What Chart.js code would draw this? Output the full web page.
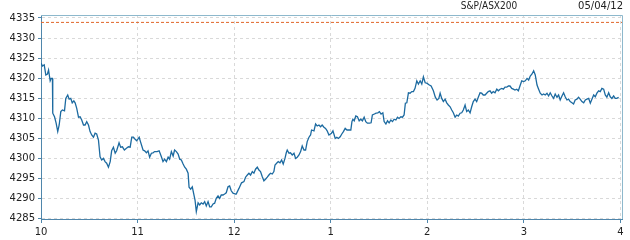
<!DOCTYPE html>
<html>
<head>
<meta charset="utf-8">
<script src="https://cdn.jsdelivr.net/npm/chart.js@4/dist/chart.umd.min.js"></script>
<style>
  html, body { margin: 0; padding: 0; background: #fff; }
  #lineChart { display: block; }
</style>
</head>
<body>
<canvas id="lineChart" width="630" height="240"></canvas>
<script>
// S&P/ASX200 intraday, minutes after 10:00
const indexName = 'S&P/ASX200';
const tradeDate = '05/04/12';
const prevClose = 4333.9;

const hourLabels = ['10', '11', '12', '1', '2', '3', '4'];
const yTicks = [4285, 4290, 4295, 4300, 4305, 4310, 4315, 4320, 4325, 4330, 4335];

const minutes = [
  0.1, 0.9, 2.0, 3.0, 4.0, 4.7, 5.7, 6.3, 7.1, 7.3, 8.4, 9.4, 10.4, 11.3, 12.3, 13.3, 14.6, 15.4, 16.6, 17.5,
  18.5, 19.4, 20.4, 21.2, 22.2, 23.3, 24.3, 25.3, 26.4, 27.4, 28.4, 29.5, 30.5, 31.5, 32.6, 33.6, 34.6, 35.7, 36.7, 37.7,
  38.8, 39.8, 40.8, 41.9, 43.0, 43.9, 45.0, 46.1, 47.0, 48.5, 49.5, 50.6, 51.8, 52.9, 54.3, 55.4, 56.4, 57.4, 58.5, 59.5,
  61.0, 61.8, 63.4, 64.4, 65.5, 66.5, 67.5, 68.6, 69.6, 70.6, 72.1, 73.4, 74.8, 75.8, 76.8, 77.9, 79.0, 79.9, 81.0, 82.1,
  83.0, 84.1, 85.2, 86.2, 87.2, 88.3, 89.3, 90.3, 91.4, 92.0, 93.0, 94.0, 94.8, 95.7, 96.5, 97.6, 98.6, 99.6, 100.7, 101.7,
  102.7, 103.8, 104.8, 105.8, 106.9, 107.9, 108.9, 110.0, 111.0, 112.0, 113.1, 114.1, 115.1, 116.2, 117.2, 118.2, 119.3, 120.9,
  121.3, 123.0, 124.6, 126.1, 127.1, 128.2, 129.2, 130.2, 131.3, 132.3, 133.3, 134.4, 135.4, 136.4, 137.5, 138.5, 139.5, 140.6,
  141.6, 142.6, 143.7, 144.7, 145.4, 146.4, 147.4, 148.5, 149.5, 150.5, 151.6, 152.4, 153.0, 154.1, 155.0, 156.1, 157.2, 158.2,
  159.2, 160.3, 161.3, 162.3, 163.4, 164.4, 165.4, 166.5, 167.5, 168.1, 169.6, 170.6, 171.6, 172.7, 173.7, 174.7, 175.8, 176.8,
  177.8, 178.9, 180.5,
  181.4, 182.8, 183.8, 184.8, 185.9, 186.9, 187.9, 189.0, 190.1, 191.0, 192.5, 193.2, 193.8, 194.6, 195.6, 196.6, 197.7, 198.7,
  199.7, 200.8, 201.8, 202.8, 204.1, 205.1, 205.9, 207.2, 208.2, 209.3, 210.3, 211.3, 212.4, 213.2, 214.3, 215.3, 216.3, 217.4,
  218.4, 219.4, 220.5, 221.5, 222.5, 223.6, 224.6, 225.6, 226.4, 227.3, 228.3, 229.3, 230.4, 231.4, 232.4, 233.5, 234.5, 235.6,
  236.6, 237.6, 238.7, 239.7, 241.3,
  242.4, 243.8, 245.0, 246.1, 247.2, 248.0, 249.0, 250.0, 251.1, 252.1, 253.1, 254.2, 255.2, 256.2, 257.3, 258.3, 259.3, 260.4,
  261.4, 262.4, 263.5, 264.5, 265.5, 266.6, 267.6, 268.6, 269.7, 270.7, 271.7, 272.8, 273.8, 274.8, 275.9, 276.9, 277.9, 279.0,
  280.0, 281.0, 282.1, 283.2, 284.2, 285.2, 286.3, 287.3, 288.3, 289.4, 290.4, 291.4, 292.5, 293.5, 294.5, 295.6, 296.6, 297.6,
  298.7,
  299.9, 300.9, 302.0, 303.0, 304.0, 305.1, 306.1, 307.1, 308.2, 309.2, 310.2, 311.3, 312.3, 313.3, 314.4, 315.4, 316.4, 317.5,
  318.5, 319.5, 320.6, 321.6, 322.6, 323.7, 324.7, 325.7, 326.8, 327.8, 328.8, 329.9, 330.9, 331.9, 333.0, 334.0, 335.0, 336.1,
  337.2, 338.2, 339.2, 340.3, 341.3, 342.3, 343.4, 344.4, 345.4, 346.5, 347.5, 348.5, 349.6, 350.6, 351.6, 352.7, 353.7, 354.7,
  355.8, 356.8, 357.8, 358.9
];

const prices = [
  4323.7, 4323.0, 4323.3, 4320.75, 4321.0, 4322.0, 4319.3, 4319.9, 4319.9, 4311.2, 4310.3, 4308.7, 4306.6, 4308.25, 4311.6, 4312.0, 4311.8, 4314.9, 4315.75, 4314.7,
  4314.9, 4313.8, 4314.3, 4313.8, 4312.4, 4310.2, 4310.3, 4309.5, 4308.25, 4308.25, 4309.1, 4308.25, 4306.6, 4305.75, 4305.2, 4306.2, 4306.0, 4304.5, 4300.3, 4299.5,
  4299.9, 4299.1, 4298.7, 4297.7, 4299.1, 4301.8, 4302.7, 4301.2, 4301.8, 4303.8, 4302.7, 4302.8, 4302.0, 4302.4, 4302.8, 4302.7, 4305.2, 4305.2, 4304.7, 4304.3,
  4305.2, 4304.1, 4302.0, 4301.8, 4301.3, 4301.8, 4300.2, 4301.2, 4301.3, 4301.6, 4301.6, 4301.8, 4300.3, 4299.1, 4299.7, 4299.1, 4300.2, 4299.7, 4301.6, 4300.5,
  4302.0, 4301.6, 4301.0, 4299.7, 4299.5, 4298.5, 4297.7, 4297.2, 4296.2, 4292.7, 4292.2, 4292.8, 4291.2, 4289.5, 4286.6, 4288.8, 4288.25, 4288.8, 4288.5, 4289.1,
  4288.0, 4289.1, 4287.8, 4287.8, 4288.5, 4288.7, 4289.9, 4290.5, 4289.9, 4290.75, 4290.75, 4291.0, 4291.3, 4292.8, 4293.0, 4291.8, 4291.2, 4291.0,
  4291.0, 4292.4, 4293.8, 4294.1, 4295.2, 4295.75, 4296.2, 4295.75, 4296.6, 4296.2, 4297.2, 4297.7, 4297.0, 4296.6, 4295.3, 4294.3, 4294.7, 4295.2,
  4295.75, 4296.2, 4296.0, 4296.6, 4298.25, 4298.7, 4299.1, 4298.8, 4299.5, 4298.5, 4299.9, 4301.3, 4302.0, 4301.2, 4301.3, 4300.75, 4301.2, 4299.9,
  4300.2, 4300.75, 4301.6, 4303.0, 4302.0, 4302.0, 4304.1, 4305.2, 4305.75, 4307.0, 4306.8, 4308.5, 4308.0, 4308.25, 4307.8, 4308.25, 4307.7, 4307.4,
  4306.8, 4305.75, 4306.2,
  4306.8, 4304.9, 4305.2, 4304.9, 4305.3, 4306.0, 4306.6, 4307.4, 4307.0, 4307.0, 4307.0, 4309.1, 4309.7, 4309.3, 4310.5, 4310.3, 4309.3, 4309.7,
  4309.3, 4310.2, 4309.1, 4308.7, 4308.7, 4308.8, 4310.75, 4311.0, 4311.2, 4311.3, 4311.6, 4311.0, 4311.3, 4309.1, 4308.5, 4309.3, 4308.8, 4309.5,
  4309.1, 4309.7, 4309.5, 4310.2, 4309.9, 4310.3, 4310.2, 4310.75, 4313.7, 4313.8, 4316.3, 4316.2, 4316.6, 4316.6, 4317.4, 4319.3, 4318.5, 4319.3,
  4318.5, 4320.3, 4318.8, 4318.7, 4318.25,
  4318.0, 4316.8, 4315.2, 4314.5, 4314.9, 4316.2, 4314.9, 4314.1, 4314.7, 4313.8, 4313.25, 4312.8, 4312.0, 4311.3, 4310.2, 4310.75, 4310.5, 4311.2,
  4311.3, 4312.0, 4313.25, 4311.6, 4312.0, 4311.3, 4312.8, 4314.1, 4314.7, 4314.1, 4315.2, 4316.3, 4316.2, 4315.75, 4315.75, 4316.2, 4316.6, 4316.8,
  4316.2, 4316.6, 4316.3, 4317.2, 4316.8, 4317.2, 4317.4, 4317.2, 4317.7, 4317.7, 4318.0, 4318.0, 4317.4, 4317.2, 4317.0, 4317.2, 4316.8, 4318.0,
  4319.3,
  4319.1, 4319.3, 4319.9, 4319.5, 4320.5, 4321.0, 4321.8, 4320.75, 4318.25, 4317.2, 4316.2, 4315.75, 4316.0, 4315.75, 4316.2, 4315.5, 4316.3, 4315.5,
  4314.9, 4316.0, 4315.2, 4315.75, 4314.5, 4315.5, 4316.3, 4315.3, 4314.5, 4314.7, 4314.1, 4313.8, 4313.5, 4314.5, 4314.7, 4315.2, 4314.7, 4314.1,
  4313.8, 4314.5, 4314.7, 4314.9, 4313.7, 4314.7, 4315.75, 4315.3, 4316.2, 4316.8, 4316.6, 4317.4, 4317.2, 4315.75, 4315.2, 4316.3, 4315.3, 4314.9,
  4315.5, 4314.9, 4314.9, 4315.2
];

const axisBlue = '#4f86ab';
const frameBlue = '#8db8cc';
const gridGrey = '#d9d9d9';

// top / right frame and the heading texts
const framePlugin = {
  id: 'frame',
  afterDraw(chart) {
    const { ctx, chartArea } = chart;
    ctx.save();
    ctx.strokeStyle = frameBlue;
    ctx.lineWidth = 1;
    ctx.beginPath();
    ctx.moveTo(chartArea.left, chartArea.top + 0.5);
    ctx.lineTo(chartArea.right + 0.5, chartArea.top + 0.5);
    ctx.lineTo(chartArea.right + 0.5, chartArea.bottom);
    ctx.stroke();

    ctx.fillStyle = '#222';
    ctx.textBaseline = 'middle';
    ctx.textAlign = 'center';
    ctx.font = '10px "DejaVu Sans Condensed", "DejaVu Sans"';
    ctx.fillText(indexName, 489, 6);
    ctx.textAlign = 'right';
    ctx.font = '10px "DejaVu Sans"';
    ctx.fillText(tradeDate, 623, 6);
    ctx.restore();
  }
};

const ctx = document.getElementById('lineChart').getContext('2d');
const lineChart = new Chart(ctx, {
  type: 'line',
  data: {
    datasets: [
      {
        label: indexName,
        data: minutes.map((m, i) => ({ x: m, y: prices[i] })),
        borderColor: '#1c6aa0',
        borderWidth: 1.3,
        pointRadius: 0,
        tension: 0
      },
      {
        label: 'Previous close',
        data: [{ x: 0, y: prevClose }, { x: 361, y: prevClose }],
        borderColor: '#e0662a',
        borderWidth: 1,
        borderDash: [3, 2],
        pointRadius: 0
      }
    ]
  },
  options: {
    responsive: false,
    animation: false,
    layout: { padding: { top: 15, right: 8, left: 0, bottom: 0 } },
    plugins: {
      legend: { display: false },
      tooltip: { enabled: false }
    },
    scales: {
      x: {
        type: 'linear',
        min: 0,
        max: 361,
        afterFit(scale) { scale.height = 21; },
        afterBuildTicks(scale) {
          scale.ticks = hourLabels.map((h, i) => ({ value: i * 60 }));
        },
        ticks: {
          color: '#222',
          font: { family: 'DejaVu Sans', size: 10 },
          padding: 3,
          maxRotation: 0,
          autoSkip: false,
          callback: (v, i) => hourLabels[i]
        },
        grid: {
          color: gridGrey,
          tickLength: 4,
          tickColor: axisBlue,
          tickBorderDash: []
        },
        border: { display: true, color: axisBlue, width: 1, dash: [3, 3] }
      },
      y: {
        min: 4284.75,
        max: 4335.75,
        afterFit(scale) { scale.width = 41; },
        afterBuildTicks(scale) {
          scale.ticks = yTicks.map(v => ({ value: v }));
        },
        ticks: {
          color: '#222',
          font: { family: 'DejaVu Sans', size: 10 },
          padding: 3,
          callback: v => String(v)
        },
        grid: {
          color: gridGrey,
          tickLength: 3,
          tickColor: axisBlue,
          tickBorderDash: []
        },
        border: { display: true, color: axisBlue, width: 1, dash: [3, 3] }
      }
    }
  },
  plugins: [framePlugin]
});
</script>
</body>
</html>
